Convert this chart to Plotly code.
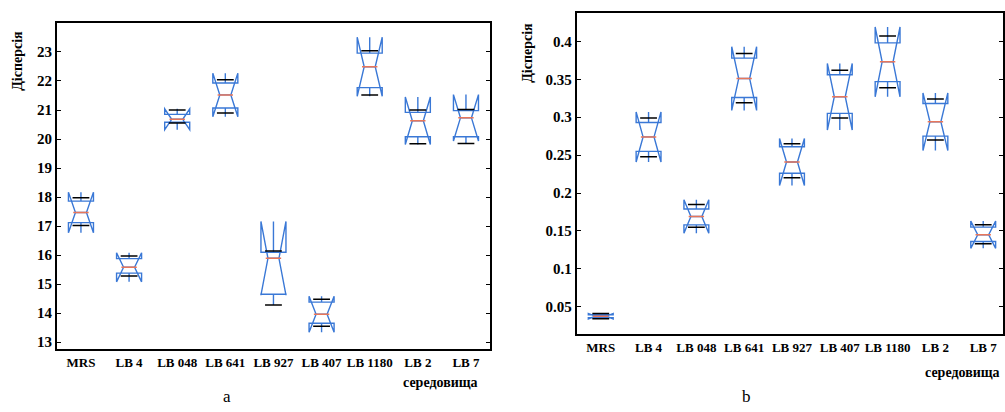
import plotly.graph_objects as go

categories = ["MRS", "LB 4", "LB 048", "LB 641", "LB 927", "LB 407", "LB 1180", "LB 2", "LB 7"]

# panel a: box statistics
a_lower = [17.02, 15.28, 20.55, 20.90, 14.28, 13.55, 21.52, 19.84, 19.85]
a_q1 = [17.12, 15.38, 20.58, 21.07, 14.65, 13.65, 21.77, 20.08, 20.08]
a_med = [17.47, 15.58, 20.68, 21.52, 15.89, 13.96, 22.49, 20.63, 20.73]
a_q3 = [17.86, 15.88, 20.85, 21.93, 16.10, 14.38, 22.96, 20.92, 20.98]
a_upper = [17.98, 15.97, 21.00, 22.04, 16.14, 14.48, 23.04, 21.00, 21.02]
a_notch = [0.70, 0.50, 0.36, 0.75, 1.27, 0.62, 1.02, 0.82, 0.80]

# panel b: box statistics
b_lower = [0.034, 0.248, 0.155, 0.319, 0.220, 0.299, 0.339, 0.270, 0.133]
b_q1 = [0.0355, 0.255, 0.158, 0.326, 0.226, 0.305, 0.347, 0.275, 0.136]
b_med = [0.0375, 0.274, 0.169, 0.351, 0.241, 0.327, 0.373, 0.294, 0.145]
b_q3 = [0.0395, 0.293, 0.179, 0.378, 0.261, 0.356, 0.398, 0.318, 0.155]
b_upper = [0.041, 0.299, 0.185, 0.384, 0.265, 0.362, 0.407, 0.324, 0.158]
b_notch = [0.0035, 0.033, 0.022, 0.042, 0.031, 0.044, 0.046, 0.038, 0.018]

a_ticks = [13, 14, 15, 16, 17, 18, 19, 20, 21, 22, 23]
b_ticks = [0.05, 0.1, 0.15, 0.2, 0.25, 0.3, 0.35, 0.4]
b_ticktext = ["0.05", "0.1", "0.15", "0.2", "0.25", "0.3", "0.35", "0.4"]

y_title = "Дісперсія"
x_title = "середовища"

FONT = "'Liberation Serif', 'Times New Roman', Times, serif"
BLUE = "#3a78d6"
RED = "#e8765a"

W, H = 1005, 412


def px(X):
    return X / W


def py(Y):
    return 1 - Y / H


fig = go.Figure()


def add_panel(xa, ya, lower, q1, med, q3, upper, notch):
    fig.add_trace(go.Box(
        x=categories, q1=q1, median=med, q3=q3,
        lowerfence=lower, upperfence=upper, notchspan=notch,
        notched=True, notchwidth=0.28, width=0.52, whiskerwidth=0,
        line=dict(color=BLUE, width=1.4), fillcolor="rgba(0,0,0,0)",
        boxpoints=False, showlegend=False, xaxis=xa, yaxis=ya,
    ))
    fig.add_trace(go.Scatter(
        x=categories + categories, y=lower + upper, mode="markers",
        marker=dict(symbol="line-ew", size=12, color="black",
                    line=dict(color="black", width=1.5)),
        showlegend=False, hoverinfo="skip", xaxis=xa, yaxis=ya,
    ))
    fig.add_trace(go.Scatter(
        x=categories, y=med, mode="markers",
        marker=dict(symbol="line-ew", size=11, color=RED,
                    line=dict(color=RED, width=1.5)),
        showlegend=False, hoverinfo="skip", xaxis=xa, yaxis=ya,
    ))


add_panel("x", "y", a_lower, a_q1, a_med, a_q3, a_upper, a_notch)
add_panel("x2", "y2", b_lower, b_q1, b_med, b_q3, b_upper, b_notch)

xcommon = dict(type="category", categoryorder="array", categoryarray=categories,
               tickvals=categories, ticktext=["<b>%s</b>" % c for c in categories],
               showline=True, linecolor="black", linewidth=2, mirror=True,
               ticks="", showgrid=False, zeroline=False,
               tickfont=dict(family=FONT, size=13, color="black"))
ycommon = dict(showline=True, linecolor="black", linewidth=2, mirror="ticks",
               ticks="inside", ticklen=4, tickwidth=1, tickcolor="black",
               showgrid=False, zeroline=False,
               tickfont=dict(family=FONT, size=15, color="black"))

fig.update_layout(
    width=W, height=H, margin=dict(l=0, r=0, t=0, b=0),
    paper_bgcolor="white", plot_bgcolor="white",
    font=dict(family=FONT, color="black"),
    xaxis=dict(domain=[px(57), px(491)], range=[-0.5, 8.5], anchor="y", **xcommon),
    yaxis=dict(domain=[py(350), py(23)], range=[12.76, 24.0], anchor="x",
               tickvals=a_ticks, ticktext=["<b>%s</b>" % t for t in a_ticks], **ycommon),
    xaxis2=dict(domain=[px(578), 1.0], range=[-0.5, 8.414], anchor="y2", **xcommon),
    yaxis2=dict(domain=[py(335), py(13)], range=[0.0138, 0.4375], anchor="x2",
                tickvals=b_ticks, ticktext=["<b>%s</b>" % t for t in b_ticktext], **ycommon),
)

ann_font = dict(family=FONT, size=14, color="black")
anns = [
    dict(text="<b>%s</b>" % y_title, x=px(18), y=py(61), textangle=-90, font=ann_font),
    dict(text="<b>%s</b>" % y_title, x=px(529), y=py(53), textangle=-90, font=ann_font),
    dict(text="<b>%s</b>" % x_title, x=px(481), y=py(383), xanchor="right", font=ann_font),
    dict(text="<b>%s</b>" % x_title, x=px(1004), y=py(373), xanchor="right", font=ann_font),
    dict(text="a", x=px(227), y=py(397), font=dict(family=FONT, size=17, color="black")),
    dict(text="b", x=px(748), y=py(397), font=dict(family=FONT, size=17, color="black")),
]
for a in anns:
    a.setdefault("xanchor", "center")
    fig.add_annotation(xref="paper", yref="paper", showarrow=False, yanchor="middle", **a)

fig.write_html(
    "out.html",
    config={"displayModeBar": False},
    post_script="document.body.style.margin='0';document.body.style.overflow='hidden';",
)
